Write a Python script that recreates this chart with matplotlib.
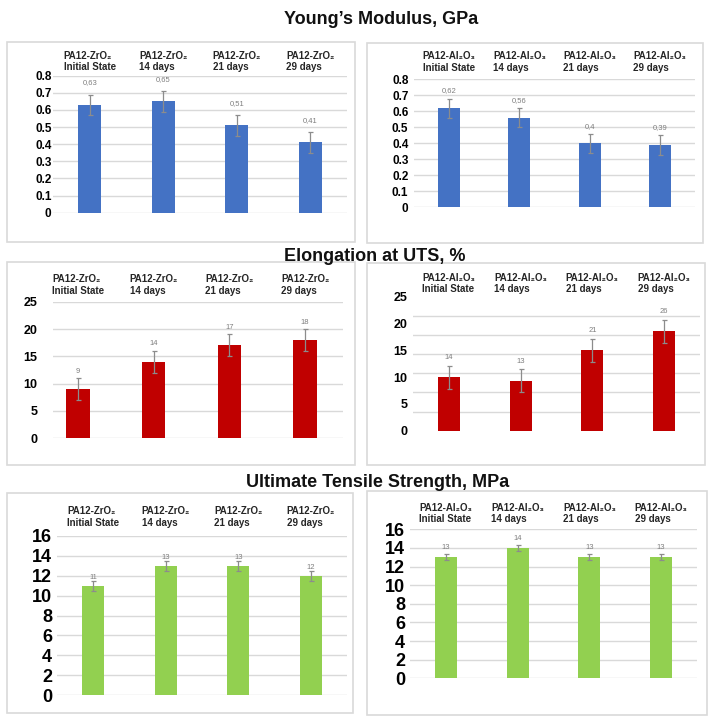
import matplotlib.pyplot as plt
import numpy as np
from matplotlib.patches import Rectangle
from matplotlib.ticker import MultipleLocator

W, H = 714, 723
FONT = ['Liberation Sans', 'DejaVu Sans']
plt.rcParams['font.family'] = FONT

zro2_groups = ["PA12-ZrO₂\nInitial State", "PA12-ZrO₂\n14 days",
               "PA12-ZrO₂\n21 days", "PA12-ZrO₂\n29 days"]
al2o3_groups = ["PA12-Al₂O₃\nInitial State", "PA12-Al₂O₃\n14 days",
                "PA12-Al₂O₃\n21 days", "PA12-Al₂O₃\n29 days"]

young_zro2 = [0.63, 0.65, 0.51, 0.41]
young_zro2_err = [0.06, 0.06, 0.06, 0.06]
young_al2o3 = [0.62, 0.56, 0.40, 0.39]
young_al2o3_err = [0.06, 0.06, 0.06, 0.06]

elong_zro2 = [9, 14, 17, 18]
elong_zro2_err = [2, 2, 2, 2]
elong_al2o3 = [14, 13, 21, 26]
elong_al2o3_err = [3, 3, 3, 3]

uts_zro2 = [11, 13, 13, 12]
uts_zro2_err = [0.5, 0.5, 0.5, 0.5]
uts_al2o3 = [13, 14, 13, 13]
uts_al2o3_err = [0.3, 0.3, 0.3, 0.3]

BLUE, RED, GREEN = '#4472C4', '#C00000', '#92D050'
GRID = '#D9D9D9'
GRAY = '#8C8C8C'


def rect(x0, y0, x1, y1):
    # pixel box (top-left origin) -> figure fraction
    return [x0 / W, 1 - y1 / H, (x1 - x0) / W, (y1 - y0) / H]


def fmt_young(v):
    return ('%g' % v).replace('.', ',')


def fmt_int(v):
    return '%d' % v


panels = [
    dict(ax=(53, 75.7, 347, 212.7), box=(7, 42, 355, 242), xlim=(-0.5, 3.5),
         vals=young_zro2, err=young_zro2_err, groups=zro2_groups, color=BLUE,
         ylim=(0, 0.8), step=0.1, tfs=8.5, pad=1, loff=10.2, voff=8.5, fmt=fmt_young),
    dict(ax=(414, 79.3, 695, 207.3), box=(367, 43, 703, 243), xlim=(-0.5, 3.5),
         vals=young_al2o3, err=young_al2o3_err, groups=al2o3_groups, color=BLUE,
         ylim=(0, 0.8), step=0.1, tfs=8.5, pad=4, loff=12.5, voff=5.4, fmt=fmt_young),
    dict(ax=(53, 301.7, 343, 438.3), box=(7, 262, 355, 465), xlim=(-0.33, 3.5),
         vals=elong_zro2, err=elong_zro2_err, groups=zro2_groups, color=RED,
         ylim=(0, 25), step=5, tfs=9, pad=11, loff=12, voff=5, fmt=fmt_int),
    dict(ax=(413, 296.7, 700, 430.7), box=(367, 263, 705, 465), xlim=(-0.5, 3.5),
         vals=elong_al2o3, err=elong_al2o3_err, groups=al2o3_groups, color=RED,
         ylim=(0, 35), step=5, tfs=9, pad=4, loff=9.5, voff=5.8, fmt=fmt_int,
         ticks=np.linspace(0, 35, 6), ticklabels=['0', '5', '10', '15', '20', '25']),
    dict(ax=(57, 536, 347, 695), box=(7, 493, 353, 713), xlim=(-0.5, 3.5),
         vals=uts_zro2, err=uts_zro2_err, groups=zro2_groups, color=GREEN,
         ylim=(0, 16), step=2, tfs=13, pad=3.5, loff=13.7, voff=2.5, fmt=fmt_int),
    dict(ax=(410, 529.3, 697, 678.3), box=(367, 491, 707, 715), xlim=(-0.5, 3.5),
         vals=uts_al2o3, err=uts_al2o3_err, groups=al2o3_groups, color=GREEN,
         ylim=(0, 16), step=2, tfs=13, pad=3.5, loff=11.4, voff=5, fmt=fmt_int),
]

fig = plt.figure(figsize=(W / 100, H / 100), dpi=100)

for p in panels:
    bx0, by0, bx1, by1 = p['box']
    fig.patches.append(Rectangle((bx0 / W, 1 - by1 / H), (bx1 - bx0) / W, (by1 - by0) / H,
                                 transform=fig.transFigure, fill=False,
                                 edgecolor=GRID, linewidth=1.2))

    x0, y0, x1, y1 = p['ax']
    ax = fig.add_axes(rect(x0, y0, x1, y1))
    x = np.arange(len(p['vals']))
    ax.bar(x, p['vals'], width=0.31, color=p['color'], zorder=2)
    ax.errorbar(x, p['vals'], yerr=p['err'], fmt='none', ecolor=GRAY,
                elinewidth=0.9, capsize=1.8, capthick=0.9, zorder=3)

    for xi, v, e in zip(x, p['vals'], p['err']):
        ax.annotate(p['fmt'](v), (xi, v + e), xytext=(0, p['voff']),
                    textcoords='offset points', ha='center', va='center',
                    fontsize=5.5, color='#7F7F7F')

    for xi, g in zip(x, p['groups']):
        ax.annotate(g, (xi, 1), xycoords=('data', 'axes fraction'),
                    xytext=(0, p['loff']), textcoords='offset points',
                    ha='center', va='center', multialignment='left',
                    fontsize=7, fontweight='bold', color='#262626',
                    linespacing=1.15)

    ax.set_xlim(*p['xlim'])
    ax.set_ylim(*p['ylim'])
    ax.set_xticks([])
    if 'ticks' in p:
        ax.set_yticks(p['ticks'])
        ax.set_yticklabels(p['ticklabels'])
        ax.yaxis.set_minor_locator(MultipleLocator(p['step']))
        ax.grid(axis='y', which='minor', color=GRID, linewidth=1, zorder=0)
        ax.tick_params(axis='y', which='minor', length=0)
    else:
        ticks = np.arange(p['ylim'][0], p['ylim'][1] + p['step'] / 2, p['step'])
        ax.set_yticks(ticks)
        ax.set_yticklabels(['%g' % t for t in ticks])
        ax.grid(axis='y', color=GRID, linewidth=1, zorder=0)
    ax.set_axisbelow(True)
    ax.tick_params(axis='y', which='major', length=0, pad=p['pad'],
                   labelsize=p['tfs'])
    for lab in ax.get_yticklabels():
        lab.set_fontweight('bold')
    for s in ax.spines.values():
        s.set_visible(False)

titles = [("Young’s Modulus, GPa", 381, 24),
          ("Elongation at UTS, %", 375, 261),
          ("Ultimate Tensile Strength, MPa", 377.5, 487)]
for t, tx, ty in titles:
    fig.text(tx / W, 1 - ty / H, t, ha='center', va='baseline',
             fontsize=13, fontweight='bold', color='#111111')

fig.savefig('out.png', dpi=100, facecolor='white')
